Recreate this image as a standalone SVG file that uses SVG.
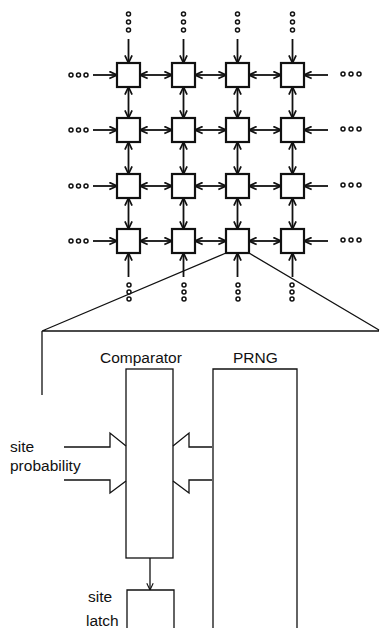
<svg xmlns="http://www.w3.org/2000/svg" width="381" height="628" viewBox="0 0 381 628">
<style>
.box{fill:#fff;stroke:#111;stroke-width:2.2}
.ln{fill:none;stroke:#111;stroke-width:1.8}
.thin{fill:none;stroke:#111;stroke-width:1.3}
.a{marker-end:url(#ah)}
.d{marker-start:url(#ah);marker-end:url(#ah)}
.dot{fill:#fff;stroke:#111;stroke-width:1.5}
text{font-family:"Liberation Sans",Arial,Helvetica,sans-serif;font-size:15.5px;fill:#111}
</style>
<defs>
<marker id="ah" viewBox="0 0 10 10" refX="9.5" refY="5" markerWidth="9" markerHeight="9" markerUnits="userSpaceOnUse" orient="auto-start-reverse">
<path d="M1,1 L9.5,5 L1,9" fill="none" stroke="#111" stroke-width="1.9"/>
</marker>
<marker id="ah2" viewBox="0 0 10 10" refX="9.5" refY="5" markerWidth="8" markerHeight="8" markerUnits="userSpaceOnUse" orient="auto">
<path d="M1,1 L9.5,5 L1,9" fill="none" stroke="#111" stroke-width="1.4"/>
</marker>
</defs>

<g id="connectors">
<line class="ln a" x1="128.5" y1="39" x2="128.5" y2="63"/>
<line class="ln a" x1="183.5" y1="39" x2="183.5" y2="63"/>
<line class="ln a" x1="237.5" y1="39" x2="237.5" y2="63"/>
<line class="ln a" x1="292.5" y1="39" x2="292.5" y2="63"/>
<line class="ln a" x1="128.5" y1="277" x2="128.5" y2="253"/>
<line class="ln a" x1="183.5" y1="277" x2="183.5" y2="253"/>
<line class="ln a" x1="237.5" y1="277" x2="237.5" y2="253"/>
<line class="ln a" x1="292.5" y1="277" x2="292.5" y2="253"/>
<line class="ln a" x1="93" y1="75" x2="117" y2="75"/>
<line class="ln a" x1="93" y1="130" x2="117" y2="130"/>
<line class="ln a" x1="93" y1="186" x2="117" y2="186"/>
<line class="ln a" x1="93" y1="241" x2="117" y2="241"/>
<line class="ln a" x1="328" y1="75" x2="304" y2="75"/>
<line class="ln a" x1="328" y1="130" x2="304" y2="130"/>
<line class="ln a" x1="328" y1="186" x2="304" y2="186"/>
<line class="ln a" x1="328" y1="241" x2="304" y2="241"/>
<line class="ln d" x1="140" y1="75" x2="172" y2="75"/>
<line class="ln d" x1="195" y1="75" x2="226" y2="75"/>
<line class="ln d" x1="249" y1="75" x2="281" y2="75"/>
<line class="ln d" x1="140" y1="130" x2="172" y2="130"/>
<line class="ln d" x1="195" y1="130" x2="226" y2="130"/>
<line class="ln d" x1="249" y1="130" x2="281" y2="130"/>
<line class="ln d" x1="140" y1="186" x2="172" y2="186"/>
<line class="ln d" x1="195" y1="186" x2="226" y2="186"/>
<line class="ln d" x1="249" y1="186" x2="281" y2="186"/>
<line class="ln d" x1="140" y1="241" x2="172" y2="241"/>
<line class="ln d" x1="195" y1="241" x2="226" y2="241"/>
<line class="ln d" x1="249" y1="241" x2="281" y2="241"/>
<line class="ln d" x1="128.5" y1="87" x2="128.5" y2="118"/>
<line class="ln d" x1="183.5" y1="87" x2="183.5" y2="118"/>
<line class="ln d" x1="237.5" y1="87" x2="237.5" y2="118"/>
<line class="ln d" x1="292.5" y1="87" x2="292.5" y2="118"/>
<line class="ln d" x1="128.5" y1="142" x2="128.5" y2="174"/>
<line class="ln d" x1="183.5" y1="142" x2="183.5" y2="174"/>
<line class="ln d" x1="237.5" y1="142" x2="237.5" y2="174"/>
<line class="ln d" x1="292.5" y1="142" x2="292.5" y2="174"/>
<line class="ln d" x1="128.5" y1="198" x2="128.5" y2="229"/>
<line class="ln d" x1="183.5" y1="198" x2="183.5" y2="229"/>
<line class="ln d" x1="237.5" y1="198" x2="237.5" y2="229"/>
<line class="ln d" x1="292.5" y1="198" x2="292.5" y2="229"/>
<path class="thin" d="M226,253 L42,331 M249,253 L379,330 M42,331 H379 M42,331 V395"/>
<line class="thin" x1="150" y1="558" x2="150" y2="590" marker-end="url(#ah2)"/>
<path class="thin" d="M64,447 H110 V433 L126,446 M126,481 L110,493 V480 H64"/>
<path class="thin" d="M212,447 H189 V433 L173,446 M173,481 L189,493 V480 H212"/>
</g>

<g id="dots">
<circle class="dot" cx="128.5" cy="14" r="2"/><circle class="dot" cx="128.5" cy="22" r="2"/><circle class="dot" cx="128.5" cy="30" r="2"/>
<circle class="dot" cx="183.5" cy="14" r="2"/><circle class="dot" cx="183.5" cy="22" r="2"/><circle class="dot" cx="183.5" cy="30" r="2"/>
<circle class="dot" cx="237.5" cy="14" r="2"/><circle class="dot" cx="237.5" cy="22" r="2"/><circle class="dot" cx="237.5" cy="30" r="2"/>
<circle class="dot" cx="292.5" cy="14" r="2"/><circle class="dot" cx="292.5" cy="22" r="2"/><circle class="dot" cx="292.5" cy="30" r="2"/>
<circle class="dot" cx="129" cy="285" r="2"/><circle class="dot" cx="129" cy="292" r="2"/><circle class="dot" cx="129" cy="299" r="2"/>
<circle class="dot" cx="184" cy="285" r="2"/><circle class="dot" cx="184" cy="292" r="2"/><circle class="dot" cx="184" cy="299" r="2"/>
<circle class="dot" cx="238" cy="285" r="2"/><circle class="dot" cx="238" cy="292" r="2"/><circle class="dot" cx="238" cy="299" r="2"/>
<circle class="dot" cx="292" cy="285" r="2"/><circle class="dot" cx="292" cy="292" r="2"/><circle class="dot" cx="292" cy="299" r="2"/>
<circle class="dot" cx="71" cy="75" r="2"/><circle class="dot" cx="78.5" cy="75" r="2"/><circle class="dot" cx="86" cy="75" r="2"/>
<circle class="dot" cx="71" cy="130" r="2"/><circle class="dot" cx="78.5" cy="130" r="2"/><circle class="dot" cx="86" cy="130" r="2"/>
<circle class="dot" cx="71" cy="186" r="2"/><circle class="dot" cx="78.5" cy="186" r="2"/><circle class="dot" cx="86" cy="186" r="2"/>
<circle class="dot" cx="71" cy="241" r="2"/><circle class="dot" cx="78.5" cy="241" r="2"/><circle class="dot" cx="86" cy="241" r="2"/>
<circle class="dot" cx="343" cy="74" r="2"/><circle class="dot" cx="351" cy="74" r="2"/><circle class="dot" cx="359" cy="74" r="2"/>
<circle class="dot" cx="343" cy="129" r="2"/><circle class="dot" cx="351" cy="129" r="2"/><circle class="dot" cx="359" cy="129" r="2"/>
<circle class="dot" cx="343" cy="185" r="2"/><circle class="dot" cx="351" cy="185" r="2"/><circle class="dot" cx="359" cy="185" r="2"/>
<circle class="dot" cx="343" cy="240" r="2"/><circle class="dot" cx="351" cy="240" r="2"/><circle class="dot" cx="359" cy="240" r="2"/>
</g>

<g id="cell-1-1"><rect class="box" x="117" y="63" width="23" height="24"/></g>
<g id="cell-1-2"><rect class="box" x="172" y="63" width="23" height="24"/></g>
<g id="cell-1-3"><rect class="box" x="226" y="63" width="23" height="24"/></g>
<g id="cell-1-4"><rect class="box" x="281" y="63" width="23" height="24"/></g>
<g id="cell-2-1"><rect class="box" x="117" y="118" width="23" height="24"/></g>
<g id="cell-2-2"><rect class="box" x="172" y="118" width="23" height="24"/></g>
<g id="cell-2-3"><rect class="box" x="226" y="118" width="23" height="24"/></g>
<g id="cell-2-4"><rect class="box" x="281" y="118" width="23" height="24"/></g>
<g id="cell-3-1"><rect class="box" x="117" y="174" width="23" height="24"/></g>
<g id="cell-3-2"><rect class="box" x="172" y="174" width="23" height="24"/></g>
<g id="cell-3-3"><rect class="box" x="226" y="174" width="23" height="24"/></g>
<g id="cell-3-4"><rect class="box" x="281" y="174" width="23" height="24"/></g>
<g id="cell-4-1"><rect class="box" x="117" y="229" width="23" height="24"/></g>
<g id="cell-4-2"><rect class="box" x="172" y="229" width="23" height="24"/></g>
<g id="cell-4-3"><rect class="box" x="226" y="229" width="23" height="24"/></g>
<g id="cell-4-4"><rect class="box" x="281" y="229" width="23" height="24"/></g>

<g id="comparator">
<rect class="thin" x="126" y="369" width="47" height="189"/>
<text x="100" y="362.5">Comparator</text>
</g>
<g id="prng">
<path class="thin" d="M213,628 V369 H297 V628"/>
<text x="233" y="362.5">PRNG</text>
</g>
<g id="site-latch">
<path class="thin" d="M127,628 V590 H174 V628"/>
<text x="88" y="602">site</text>
<text x="86" y="626">latch</text>
</g>
<g id="site-probability">
<text x="10" y="452">site</text>
<text x="10" y="471">probability</text>
</g>
</svg>
